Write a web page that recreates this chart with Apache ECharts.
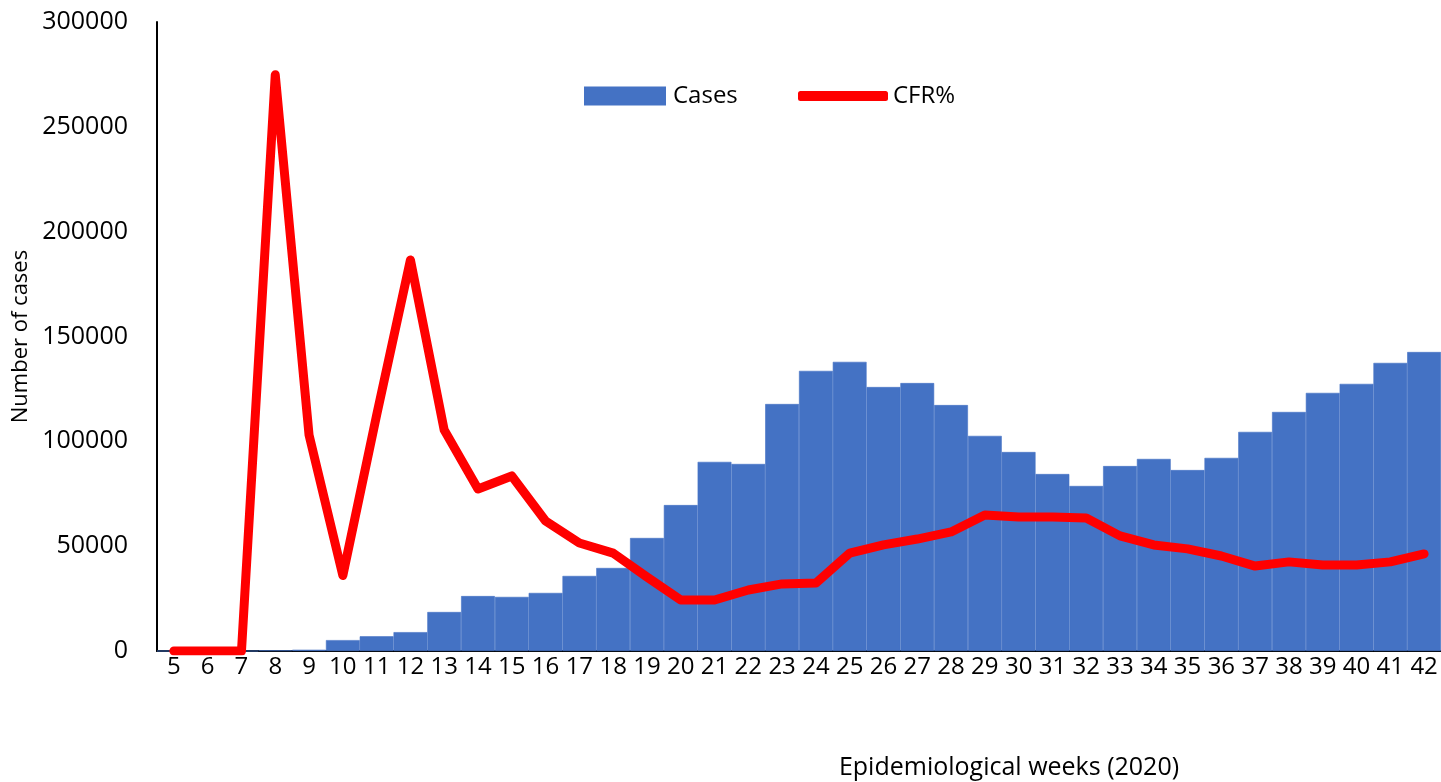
<!DOCTYPE html>
<html>
<head>
<meta charset="utf-8">
<script src="https://cdn.jsdelivr.net/npm/echarts@6/dist/echarts.min.js"></script>
<style>
  html, body { margin: 0; padding: 0; background: #fff; }
  #chart { width: 1441px; height: 782px; }
</style>
</head>
<body>
<div id="chart"></div>
<script>
// epidemiological weeks (2020)
const weeks = ["5", "6", "7", "8", "9", "10", "11", "12", "13", "14", "15", "16", "17", "18", "19", "20", "21", "22", "23",
  "24", "25", "26", "27", "28", "29", "30", "31", "32", "33", "34", "35", "36", "37", "38", "39", "40", "41", "42"];

// weekly cases
const cases = [0, 0, 0, 300, 600, 5200, 7000, 9000, 18600, 26200, 25800, 27700, 35800, 39600, 53900, 69600, 90200, 89200, 117800,
  133600, 137900, 125900, 127800, 117300, 102600, 94900, 84400, 78700, 88200, 91600, 86300, 92100, 104500, 114000, 123100, 127400, 137400, 142600];

// CFR% drawn on the cases scale, as in the original figure
const cfr = [0, 0, 0, 274800, 103000, 36000, 112500, 186500, 105400, 77300, 83500, 62000, 51500, 46700, 35300, 24300, 24300, 29100, 32000,
  32400, 46700, 50600, 53400, 56800, 64900, 63900, 63900, 63400, 54900, 50600, 48700, 45300, 40500, 42500, 41000, 41000, 42500, 46300];

const yTicks = { min: 0, max: 300000, interval: 50000 };

const fontFamily = "'Open Sans', 'Noto Sans', sans-serif";

const chart = echarts.init(document.getElementById("chart"));

chart.setOption({
  animation: false,
  textStyle: { fontFamily: fontFamily, color: "#000" },
  legend: [
    {
      data: ["Cases"],
      left: 584,
      top: 84,
      padding: 0,
      itemWidth: 80,
      itemHeight: 17,
      icon: "rect",
      itemGap: 9,
      textStyle: { fontSize: 24, color: "#000", fontFamily: fontFamily, padding: [0, 0, 0, 3] }
    },
    {
      data: ["CFR%"],
      left: 798,
      top: 84,
      padding: 0,
      itemWidth: 90,
      itemHeight: 10,
      icon: "roundRect",
      itemGap: 4,
      textStyle: { fontSize: 24, color: "#000", fontFamily: fontFamily }
    }
  ],
  grid: {
    left: 157,
    right: 0,
    top: 22,
    bottom: 131,
    containLabel: false,
    outerBoundsMode: "none"
  },
  xAxis: {
    type: "category",
    data: weeks,
    name: "Epidemiological weeks (2020)",
    nameLocation: "middle",
    nameGap: 104,
    nameTextStyle: { fontSize: 25, color: "#000", fontFamily: fontFamily, padding: [0, 0, 0, 420] },
    axisLine: { lineStyle: { color: "#000", width: 2 } },
    axisTick: { show: false },
    axisLabel: { fontSize: 24, color: "#000", margin: 4, interval: 0 }
  },
  yAxis: {
    type: "value",
    min: yTicks.min,
    max: yTicks.max,
    interval: yTicks.interval,
    name: "Number of cases",
    nameLocation: "middle",
    nameGap: 122,
    nameTextStyle: { fontSize: 22, color: "#000", fontFamily: fontFamily },
    axisLine: { show: true, lineStyle: { color: "#000", width: 2 } },
    axisTick: { show: false },
    splitLine: { show: false },
    axisLabel: { fontSize: 25, color: "#000", margin: 29, formatter: v => String(v) }
  },
  series: [
    {
      name: "Cases",
      type: "bar",
      data: cases,
      barCategoryGap: "0%",
      itemStyle: { color: "#4472C4", borderColor: "#4472C4", borderWidth: 0.6 }
    },
    {
      name: "CFR%",
      type: "line",
      data: cfr,
      symbol: "none",
      lineStyle: { color: "#FF0000", width: 9, cap: "round", join: "round" },
      itemStyle: { color: "#FF0000" }
    }
  ]
});
</script>
</body>
</html>
